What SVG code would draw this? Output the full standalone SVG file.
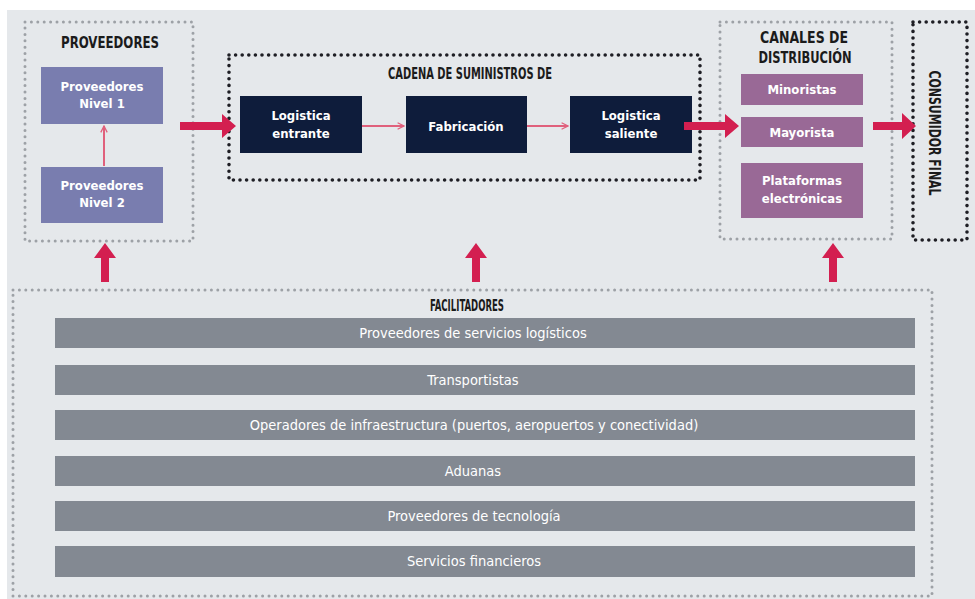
<svg xmlns="http://www.w3.org/2000/svg" width="975" height="599" viewBox="0 0 975 599">
  <defs>
    <style>
      .title { font-family: "DejaVu Sans Condensed", "Liberation Sans", sans-serif; font-weight: bold; font-size: 15px; fill: #1b1b1b; text-anchor: middle; }
      .lbl { font-family: "DejaVu Sans Condensed", "Liberation Sans", sans-serif; font-weight: bold; font-size: 13px; fill: #ffffff; text-anchor: middle; }
      .bar-lbl { font-family: "DejaVu Sans Condensed", "Liberation Sans", sans-serif; font-size: 14.5px; fill: #ffffff; text-anchor: middle; }
      .dots-grey { fill: none; stroke: #9da1a6; stroke-width: 3; stroke-linecap: round; stroke-dasharray: 0 6.4; }
      .dots-dark { fill: none; stroke: #1e1e24; stroke-width: 3.6; stroke-linecap: round; stroke-dasharray: 0 6.6; }
      .prov { fill: #797daf; }
      .chain { fill: #0e1c3b; }
      .canal { fill: #996996; }
      .bar { fill: #838992; }
      .thin { stroke: #e0607c; stroke-width: 2; fill: none; }
      .thick { fill: #d31f50; }
    </style>
    <marker id="chev" viewBox="0 0 10 10" refX="9" refY="5" markerWidth="8" markerHeight="8" markerUnits="userSpaceOnUse" orient="auto">
      <path d="M1,1 L9,5 L1,9" fill="none" stroke="#e0607c" stroke-width="1.6"/>
    </marker>
  </defs>

  <!-- page -->
  <rect x="0" y="0" width="975" height="599" fill="#ffffff"/>
  <rect x="7" y="10" width="968" height="589" fill="#e5e8eb"/>

  <!-- Proveedores -->
  <g id="proveedores">
    <rect class="dots-grey" x="25" y="22" width="168" height="219"/>
    <text class="title" x="110" y="48" textLength="98" lengthAdjust="spacingAndGlyphs">PROVEEDORES</text>
    <g id="prov-nivel-1">
      <rect class="prov" x="41" y="67" width="122" height="57"/>
      <text class="lbl" x="102" y="91">Proveedores</text>
      <text class="lbl" x="102" y="108">Nivel 1</text>
    </g>
    <g id="prov-nivel-2">
      <rect class="prov" x="41" y="167" width="122" height="56"/>
      <text class="lbl" x="102" y="190">Proveedores</text>
      <text class="lbl" x="102" y="207">Nivel 2</text>
    </g>
  </g>

  <!-- Cadena de suministros -->
  <g id="cadena">
    <rect class="dots-dark" x="229" y="55" width="471" height="125"/>
    <text class="title" x="470" y="79" textLength="164" lengthAdjust="spacingAndGlyphs">CADENA DE SUMINISTROS DE</text>
    <g id="logistica-entrante">
      <rect class="chain" x="240" y="96" width="122" height="57"/>
      <text class="lbl" x="301" y="120">Logistica</text>
      <text class="lbl" x="301" y="138">entrante</text>
    </g>
    <g id="fabricacion">
      <rect class="chain" x="406" y="96" width="121" height="57"/>
      <text class="lbl" x="466" y="131">Fabricación</text>
    </g>
    <g id="logistica-saliente">
      <rect class="chain" x="570" y="96" width="122" height="57"/>
      <text class="lbl" x="631" y="120">Logistica</text>
      <text class="lbl" x="631" y="138">saliente</text>
    </g>
  </g>

  <!-- Canales de distribución -->
  <g id="canales">
    <rect class="dots-grey" x="720" y="22" width="172" height="217"/>
    <text class="title" x="804" y="43" textLength="88" lengthAdjust="spacingAndGlyphs">CANALES DE</text>
    <text class="title" x="805" y="63" textLength="93" lengthAdjust="spacingAndGlyphs">DISTRIBUCIÓN</text>
    <g id="minoristas">
      <rect class="canal" x="741" y="74" width="122" height="31"/>
      <text class="lbl" x="802" y="94">Minoristas</text>
    </g>
    <g id="mayorista">
      <rect class="canal" x="741" y="117" width="122" height="30"/>
      <text class="lbl" x="802" y="137">Mayorista</text>
    </g>
    <g id="plataformas">
      <rect class="canal" x="741" y="163" width="122" height="55"/>
      <text class="lbl" x="802" y="185">Plataformas</text>
      <text class="lbl" x="802" y="203">electrónicas</text>
    </g>
  </g>

  <!-- Consumidor final -->
  <g id="consumidor">
    <rect class="dots-dark" x="913" y="22" width="54" height="218"/>
    <text class="title" transform="translate(929,133) rotate(90)" x="0" y="0" textLength="125" lengthAdjust="spacingAndGlyphs">CONSUMIDOR FINAL</text>
  </g>

  <!-- Facilitadores -->
  <g id="facilitadores">
    <rect class="dots-grey" x="13" y="290" width="919" height="306"/>
    <text class="title" x="467" y="311" textLength="74" lengthAdjust="spacingAndGlyphs">FACILITADORES</text>
    <g id="f1"><rect class="bar" x="55" y="318" width="860" height="30"/><text class="bar-lbl" x="473" y="338">Proveedores de servicios logísticos</text></g>
    <g id="f2"><rect class="bar" x="55" y="365" width="860" height="30"/><text class="bar-lbl" x="473" y="385">Transportistas</text></g>
    <g id="f3"><rect class="bar" x="55" y="410" width="860" height="30"/><text class="bar-lbl" x="474" y="430">Operadores de infraestructura (puertos, aeropuertos y conectividad)</text></g>
    <g id="f4"><rect class="bar" x="55" y="456" width="860" height="30"/><text class="bar-lbl" x="473" y="476">Aduanas</text></g>
    <g id="f5"><rect class="bar" x="55" y="501" width="860" height="30"/><text class="bar-lbl" x="474" y="521">Proveedores de tecnología</text></g>
    <g id="f6"><rect class="bar" x="55" y="546" width="860" height="31"/><text class="bar-lbl" x="474" y="566">Servicios financieros</text></g>
  </g>

  <!-- connectors -->
  <g id="connectors">
    <!-- thin flow arrows -->
    <line class="thin" x1="104" y1="166" x2="104" y2="126" marker-end="url(#chev)"/>
    <line class="thin" x1="362" y1="126" x2="404" y2="126" marker-end="url(#chev)"/>
    <line class="thin" x1="527" y1="126" x2="568" y2="126" marker-end="url(#chev)"/>
    <!-- thick horizontal arrows -->
    <path class="thick" d="M180,122 L222,122 L222,114 L236,126 L222,138 L222,130 L180,130 Z"/>
    <path class="thick" d="M684,122 L725,122 L725,114 L739,126 L725,138 L725,130 L684,130 Z"/>
    <path class="thick" d="M873,122 L902,122 L902,113 L916,126 L902,139 L902,130 L873,130 Z"/>
    <!-- thick upward arrows -->
    <path class="thick" d="M101,282 L101,258 L94,258 L105,243 L116,258 L109,258 L109,282 Z"/>
    <path class="thick" d="M472,282 L472,258 L465,258 L476,243 L487,258 L480,258 L480,282 Z"/>
    <path class="thick" d="M829,282 L829,258 L822,258 L833,243 L844,258 L837,258 L837,282 Z"/>
  </g>
</svg>
